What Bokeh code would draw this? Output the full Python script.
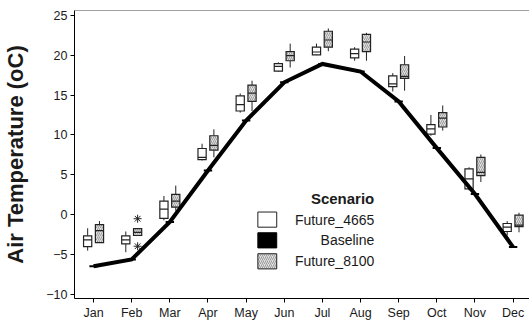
from bokeh.plotting import figure
from bokeh.models import Range1d, FixedTicker, Span, Label
from bokeh.core.properties import value
from bokeh.embed import file_html
from bokeh.resources import INLINE

# Monthly air temperature by scenario (box statistics in deg C)
months = ["Jan", "Feb", "Mar", "Apr", "May", "Jun",
          "Jul", "Aug", "Sep", "Oct", "Nov", "Dec"]

baseline = [-6.45, -5.6, -0.9, 5.55, 11.8, 16.6, 18.9, 17.95, 14.2, 8.35, 2.6, -4.05]

# Future_4665
f4665_lo = [-4.5, -4.7, -0.7, 6.8, 12.8, 17.9, 20.0, 19.3, 15.45, 9.9, 3.05, -2.6]
f4665_q1 = [-4.0, -3.65, -0.45, 6.9, 13.0, 18.0, 20.05, 19.65, 16.05, 10.1, 3.25, -2.1]
f4665_med = [-3.15, -3.15, 0.7, 7.2, 13.8, 18.6, 20.4, 20.2, 16.4, 10.75, 4.5, -1.55]
f4665_q3 = [-2.65, -2.65, 1.7, 8.3, 14.9, 18.95, 21.0, 20.75, 17.4, 11.3, 5.75, -1.1]
f4665_hi = [-1.7, -2.1, 2.35, 8.9, 15.2, 19.1, 21.45, 21.0, 17.75, 12.5, 5.95, -0.8]

# Future_8100
f8100_lo = [-3.5, -2.6, 0.5, 7.2, 13.0, 18.45, 20.5, 19.3, 15.55, 10.55, 4.1, -2.2]
f8100_q1 = [-3.5, -2.6, 0.95, 8.1, 14.2, 19.3, 21.0, 20.45, 17.1, 11.0, 4.9, -1.5]
f8100_med = [-2.0, -2.2, 1.7, 8.7, 15.25, 19.95, 21.9, 21.65, 17.35, 12.1, 5.3, -1.3]
f8100_q3 = [-1.25, -1.75, 2.55, 9.9, 16.25, 20.45, 23.0, 22.6, 18.8, 12.8, 7.2, -0.05]
f8100_hi = [-0.8, -1.75, 3.65, 10.7, 16.8, 21.45, 23.35, 22.8, 19.9, 13.7, 7.55, 0.25]

# Outliers of Future_8100 (month number, value)
f8100_out_month = [2, 2]
f8100_out_val = [-0.5, -3.95]

y_ticks = [-10, -5, 0, 5, 10, 15, 20, 25]

FONT = "Liberation Sans"
TXT = "#1a1a1a"
HATCH_FILL = "#e0e0e0"
HATCH_LINE = "#8a8a8a"

x = list(range(1, len(months) + 1))
OFF = 0.155
BW = 0.215

p = figure(width=529, height=326, output_backend="svg", toolbar_location=None,
           x_range=Range1d(0.5, 12.43), y_range=Range1d(-10.5, 25.6),
           min_border_left=71, min_border_right=0, min_border_top=10, min_border_bottom=28)
p.outline_line_color = None
p.grid.visible = False
p.background_fill_color = "white"
p.border_fill_color = "white"

# top frame edge
p.add_layout(Span(location=25.6, dimension="width", line_color="#444444", line_width=1))


def draw_boxes(xs, lo, q1, med, q3, hi, **fill):
    p.segment(x0=xs, y0=lo, x1=xs, y1=q1, line_color="#222222", line_width=1)
    p.segment(x0=xs, y0=q3, x1=xs, y1=hi, line_color="#222222", line_width=1)
    p.vbar(x=xs, width=BW, bottom=q1, top=q3, line_color="#222222", line_width=1.2,
           line_join="miter", **fill)
    p.segment(x0=[v - BW / 2 for v in xs], y0=med, x1=[v + BW / 2 for v in xs], y1=med,
              line_color="#222222", line_width=1.2)


draw_boxes([v - OFF for v in x], f4665_lo, f4665_q1, f4665_med, f4665_q3, f4665_hi,
           fill_color="white")
draw_boxes([v + OFF for v in x], f8100_lo, f8100_q1, f8100_med, f8100_q3, f8100_hi,
           fill_color=HATCH_FILL, hatch_pattern="/", hatch_color=HATCH_LINE,
           hatch_scale=4, hatch_weight=0.8)

p.scatter([m + OFF for m in f8100_out_month], f8100_out_val, marker="asterisk",
          size=8, line_color="#222222", line_width=1)

# Baseline: connected medians plus collapsed boxes
p.line(x, baseline, line_color="black", line_width=4, line_join="miter")
p.segment(x0=[v - 0.11 for v in x], y0=baseline, x1=[v + 0.11 for v in x], y1=baseline,
          line_color="black", line_width=2)

# axes
p.yaxis.ticker = FixedTicker(ticks=y_ticks)
p.xaxis.ticker = FixedTicker(ticks=x)
p.xaxis.major_label_overrides = {i: m for i, m in zip(x, months)}
for ax in (p.xaxis, p.yaxis):
    ax.axis_line_color = "black"
    ax.axis_line_width = 1
    ax.major_tick_line_color = "black"
    ax.major_tick_out = 4
    ax.major_tick_in = 0
    ax.minor_tick_line_color = None
    ax.major_label_text_font = FONT
    ax.major_label_text_color = TXT
    ax.major_label_text_font_size = "12.5px"
    ax.major_label_standoff = 3
p.yaxis.axis_label = "Air Temperature (oC)"
p.yaxis.axis_label_text_font = FONT
p.yaxis.axis_label_text_font_style = "bold"
p.yaxis.axis_label_text_font_size = "22px"
p.yaxis.axis_label_text_color = TXT
p.yaxis.axis_label_standoff = 15

# legend
LEG_SQ_X = 5.555
LEG_SQ_W = 0.495
LEG_SQ_H = 1.9
LEG_ROWS = [-0.61, -3.21, -5.84]
LEG_TXT_X = 8.36
p.rect(x=[LEG_SQ_X], y=[LEG_ROWS[0]], width=LEG_SQ_W, height=LEG_SQ_H,
       fill_color="white", line_color="#222222", line_width=1, line_join="miter")
p.rect(x=[LEG_SQ_X], y=[LEG_ROWS[1]], width=LEG_SQ_W, height=LEG_SQ_H,
       fill_color="black", line_color="black", line_width=1, line_join="miter")
p.rect(x=[LEG_SQ_X], y=[LEG_ROWS[2]], width=LEG_SQ_W, height=LEG_SQ_H,
       fill_color=HATCH_FILL, line_color="#222222", line_width=1, line_join="miter",
       hatch_pattern="/", hatch_color=HATCH_LINE, hatch_scale=4, hatch_weight=0.8)
p.add_layout(Label(x=LEG_TXT_X, y=2.0, text="Scenario", text_align="right",
                   text_baseline="middle", text_font=FONT, text_font_style="bold",
                   text_font_size="15px", text_color=TXT))
for yy, name in zip(LEG_ROWS, ["Future_4665", "Baseline", "Future_8100"]):
    p.add_layout(Label(x=LEG_TXT_X, y=yy, text=name, text_align="right",
                       text_baseline="middle", text_font=FONT,
                       text_font_size="14px", text_color=TXT))

open("out.html", "w").write(file_html(p, INLINE))
